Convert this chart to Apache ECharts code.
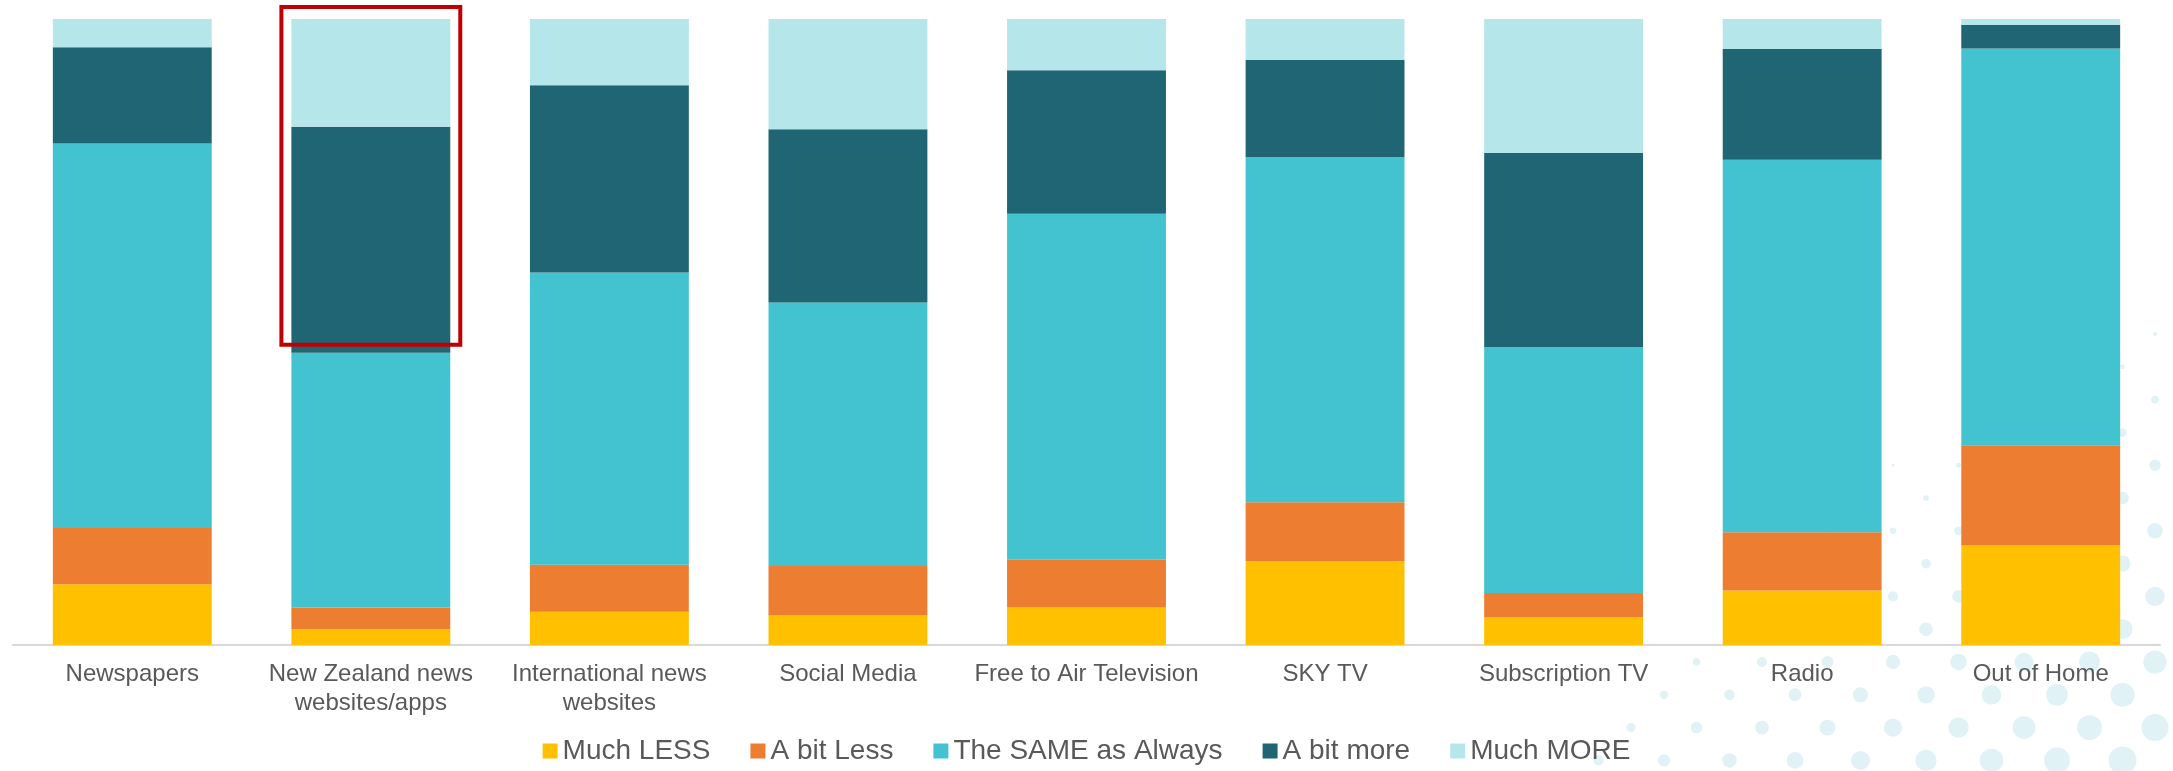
<!DOCTYPE html>
<html>
<head>
<meta charset="utf-8">
<script src="https://cdn.jsdelivr.net/npm/echarts@6/dist/echarts.min.js"></script>
<style>
html,body{margin:0;padding:0;background:#fff;}
#chart{width:2173px;height:771px;}
</style>
</head>
<body>
<div id="chart"></div>
<script>
const categories = ["Newspapers", "New Zealand news\nwebsites/apps", "International news\nwebsites", "Social Media", "Free to Air Television", "SKY TV", "Subscription TV", "Radio", "Out of Home"];
const seriesNames = ["Much LESS", "A bit Less", "The SAME as Always", "A bit more", "Much MORE"];
const muchLess   = [9.7, 2.5, 5.3, 4.7, 6.0, 13.4, 4.4, 8.7, 15.9];
const bitLess    = [9.0, 3.5, 7.5, 7.9, 7.6, 9.4, 3.9, 9.3, 16.0];
const same       = [61.4, 40.7, 46.7, 42.1, 55.3, 55.1, 39.3, 59.5, 63.4];
const bitMore    = [15.4, 36.1, 29.9, 27.7, 22.9, 15.6, 31.0, 17.7, 3.8];
const muchMore   = [4.5, 17.2, 10.6, 17.6, 8.2, 6.5, 21.4, 4.8, 0.9];

const colors = ["#FFC000", "#ED7D31", "#43C3CF", "#1F6573", "#B4E6EA"];
const values = [muchLess, bitLess, same, bitMore, muchMore];

const chart = echarts.init(document.getElementById('chart'), null, {renderer: 'canvas'});

// decorative dot pattern (background)
const dots = [];
for (let r = 0; r < 14; r++) {
  const y = 334 + r * 32.8;
  const x0 = (r % 2 === 0) ? 2155 : 2122.5;
  for (let c = 0; c < 12; c++) {
    const x = x0 - c * 65.5;
    if (x + y < 2350) continue;
    const rad = 1.9 + (y - 333) * 0.0295 + (x - 2156) * 0.017;
    if (rad < 1) continue;
    dots.push({type: 'circle', silent: true, z: -10, shape: {cx: x, cy: y, r: rad}, style: {fill: '#E0F2F5'}});
  }
}

const option = {
  animation: false,
  color: colors,
  grid: {left: 13, right: 13, top: 19, bottom: 126, containLabel: false},
  legend: {
    bottom: 1,
    left: 'center',
    itemWidth: 15,
    itemHeight: 15,
    itemGap: 40,
    icon: 'rect',
    textStyle: {fontSize: 28, color: '#595959', fontFamily: 'Liberation Sans, Arial, sans-serif'},
    data: seriesNames
  },
  xAxis: {
    type: 'category',
    data: categories,
    axisLine: {lineStyle: {color: '#D9D9D9', width: 2}},
    axisTick: {show: false},
    axisLabel: {interval: 0, fontSize: 24, lineHeight: 29, color: '#595959', margin: 15, fontFamily: 'Liberation Sans, Arial, sans-serif'}
  },
  yAxis: {type: 'value', min: 0, max: 100, show: false, splitLine: {show: false}},
  graphic: dots,
  series: seriesNames.map((n, i) => ({
    name: n,
    type: 'bar',
    stack: 'total',
    barCategoryGap: '33.4%',
    data: values[i],
    itemStyle: {color: colors[i]}
  }))
};
chart.setOption(option);

// red highlight box around the top of NZ news websites/apps bar
const band = (2173 - 26) / categories.length;
const barW = band * (1 - 0.334);
const cx = chart.convertToPixel({xAxisIndex: 0}, 1);
const yTop = chart.convertToPixel({yAxisIndex: 0}, 100);
const yBot = chart.convertToPixel({yAxisIndex: 0}, muchLess[1] + bitLess[1] + same[1]);
chart.setOption({
  graphic: dots.concat([{
    type: 'rect', z: 100, silent: true,
    shape: {x: cx - barW / 2 - 10, y: yTop - 12, width: barW + 20, height: (yBot - 8) - (yTop - 12)},
    style: {fill: 'none', stroke: '#C00000', lineWidth: 4}
  }])
});
</script>
</body>
</html>
